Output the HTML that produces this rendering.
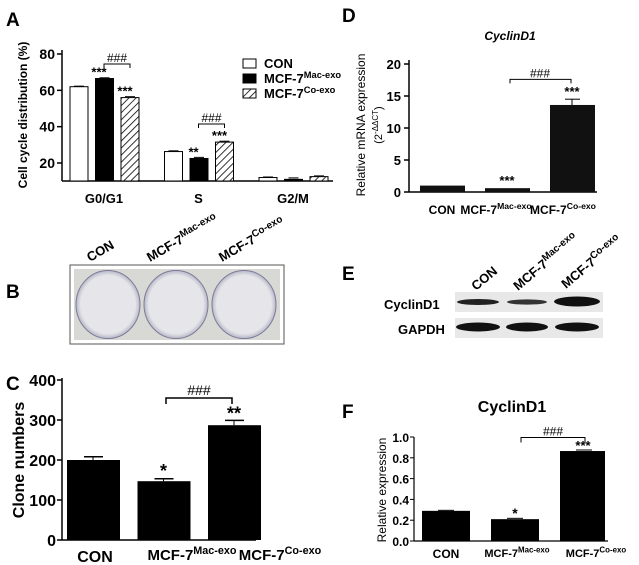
<!DOCTYPE html><html><head><meta charset="utf-8"><style>body{margin:0;background:#fff}svg{display:block;font-family:"Liberation Sans",Arial,sans-serif;font-weight:bold}</style></head><body>
<svg id="s" width="639" height="565" viewBox="0 0 639 565">
<defs><pattern id="h" width="5" height="5" patternUnits="userSpaceOnUse" patternTransform="rotate(45)"><rect width="5" height="5" fill="#fff"/><line x1="0" y1="0" x2="0" y2="5" stroke="#000" stroke-width="1.6"/></pattern>
<radialGradient id="pl"><stop offset="0.85" stop-color="#e6e6ea"/><stop offset="1" stop-color="#b8b8c8"/></radialGradient></defs>
<g font-size="19"><text x="6" y="26">A</text><text x="6" y="298">B</text><text x="6" y="390">C</text><text x="342" y="22">D</text><text x="342" y="280">E</text><text x="342" y="418">F</text></g>
<g><rect x="70" y="265" width="214" height="79" fill="#fff" stroke="#555"/>
<rect x="74" y="269" width="206" height="71" fill="#d8d8d4"/>
<ellipse cx="108" cy="304.5" rx="32" ry="34" fill="url(#pl)" stroke="#7a7a99"/><ellipse cx="176" cy="304.5" rx="32" ry="34" fill="url(#pl)" stroke="#7a7a99"/><ellipse cx="244" cy="304.5" rx="32" ry="34" fill="url(#pl)" stroke="#7a7a99"/></g>
<g font-size="13"><text transform="translate(90,262) rotate(-30)">CON</text><text transform="translate(150,262) rotate(-30)">MCF-7<tspan font-size="10" dy="-5">Mac-exo</tspan></text><text transform="translate(222,262) rotate(-30)">MCF-7<tspan font-size="10" dy="-5">Co-exo</tspan></text></g>
<g font-size="13"><text transform="translate(476,291) rotate(-40)">CON</text><text transform="translate(518,291) rotate(-40)">MCF-7<tspan font-size="10" dy="-5">Mac-exo</tspan></text><text transform="translate(566,289) rotate(-40)">MCF-7<tspan font-size="10" dy="-5">Co-exo</tspan></text>
<text x="384" y="309" font-size="13">CyclinD1</text><text x="398" y="334" font-size="13">GAPDH</text></g>
<g><rect x="455" y="292" width="148" height="20" fill="#e8e8e8"/><rect x="455" y="318" width="148" height="20" fill="#e8e8e8"/>
<ellipse cx="478" cy="302" rx="21" ry="3" fill="#222"/><ellipse cx="527" cy="302" rx="20" ry="2.6" fill="#333"/><ellipse cx="577" cy="301.5" rx="23" ry="5" fill="#111"/>
<ellipse cx="478" cy="327" rx="22" ry="4.5" fill="#111"/><ellipse cx="527" cy="327" rx="21" ry="4.5" fill="#111"/><ellipse cx="577" cy="327" rx="22" ry="4.5" fill="#111"/></g>
</svg>
<script>
const NS="http://www.w3.org/2000/svg",S=document.getElementById('s');
function E(t,a,p){const e=document.createElementNS(NS,t);for(const k in a)e.setAttribute(k,a[k]);(p||S).appendChild(e);return e}
function T(x,y,s,sz,anchor,extra){const e=E('text',Object.assign({x:x,y:y,'font-size':sz,'text-anchor':anchor||'middle'},extra||{}));e.textContent=s;return e}
function mcf(x,y,sup,sz,anchor){const e=E('text',{x:x,y:y,'font-size':sz,'text-anchor':anchor||'middle'});e.appendChild(document.createTextNode('MCF-7'));const t=E('tspan',{'font-size':sz*0.72,dy:-sz*0.4},e);t.textContent=sup;return e}
// ===== Panel A data
const catsA=["G0/G1","S","G2/M"];
const conA=[62,26.3,12];
const macA=[66.5,22.5,11];
const coA=[56,31.5,12.5];
const errA=[[0.3,0.4,0.3],[0.4,0.6,0.8],[0.5,0.5,0.4]];
const ticksA=[20,40,60,80];
const yA=v=>163-(v-20)*109/60, baseA=181;
const xA=i=>70+i*94.5;
E('line',{x1:62,y1:50,x2:62,y2:baseA,stroke:'#000','stroke-width':1.5});
E('line',{x1:62,y1:baseA,x2:333,y2:baseA,stroke:'#000','stroke-width':1.5});
ticksA.forEach(t=>{E('line',{x1:57,y1:yA(t),x2:62,y2:yA(t),stroke:'#000','stroke-width':1.5});T(55,yA(t)+5,String(t),14,'end')});
T(0,0,'Cell cycle distribution (%)',12,'middle',{transform:'translate(27,115) rotate(-90)'});
[conA,macA,coA].forEach((ser,s)=>{ser.forEach((v,i)=>{const x=xA(i)+s*25.5;const b=E('rect',{x:x,y:yA(v),width:18,height:baseA-yA(v),fill:s==0?'#fff':s==1?'#000':'url(#h)',stroke:'#000','stroke-width':1});const ey=yA(v+errA[s][i]);E('line',{x1:x+4,y1:ey,x2:x+14,y2:ey,stroke:'#000'});})});
catsA.forEach((c,i)=>T(xA(i)+34,203,c,13));
T(xA(0)+29,yA(macA[0])-2,'***',13);T(xA(0)+55,yA(coA[0])-2,'***',13);
T(xA(1)+29,yA(macA[1])-2,'**',13);T(xA(1)+55,yA(coA[1])-2,'***',13);
[[0,66.5+8],[1,31.5+10]].forEach(([i,v])=>{const y=yA(v);E('path',{d:`M${xA(i)+34} ${y+4}V${y}H${xA(i)+60}V${y+4}`,fill:'none',stroke:'#000'});T(xA(i)+47,y-2,'###',12,'middle',{'font-weight':'normal'})});
const legNames=['CON','Mac-exo','Co-exo'];
legNames.forEach((n,k)=>{const y=59+k*15;const r=E('rect',{x:243,y:y,width:13,height:9,fill:k==0?'#fff':k==1?'#000':'url(#h)',stroke:'#000'});if(k==0)T(264,y+9,'CON',13,'start');else mcf(264,y+9,n,13,'start')});
// ===== Panel D
const catsD=["CON","Mac-exo","Co-exo"];
const valsD=[1,0.6,13.6];
const errD=[0.05,0.05,0.9];
const ticksD=[0,5,10,15,20];
const yD=v=>192-v*6.4, xD=i=>420+i*65;
E('line',{x1:409,y1:60,x2:409,y2:192,stroke:'#000','stroke-width':1.5});E('line',{x1:409,y1:192,x2:597,y2:192,stroke:'#000','stroke-width':1.5});
ticksD.forEach(t=>{E('line',{x1:404,y1:yD(t),x2:409,y2:yD(t),stroke:'#000','stroke-width':1.5});T(401,yD(t)+5,String(t),13,'end')});
valsD.forEach((v,i)=>{const b=E('rect',{x:xD(i),y:yD(v),width:45,height:192-yD(v),fill:'#111'});if(errD[i]>0.1){E('line',{x1:xD(i)+22,y1:yD(v),x2:xD(i)+22,y2:yD(v+errD[i]),stroke:'#000'});E('line',{x1:xD(i)+15,y1:yD(v+errD[i]),x2:xD(i)+30,y2:yD(v+errD[i]),stroke:'#000'})}});
T(442,214,'CON',12);mcf(496,214,'Mac-exo',12);mcf(563,214,'Co-exo',12);
T(xD(1)+22,yD(valsD[1])-3,'***',13);T(xD(2)+22,yD(valsD[2]+errD[2])-3,'***',13);
{const y=yD(17.6);E('path',{d:`M510 ${y+4}V${y}H571V${y+4}`,fill:'none',stroke:'#000'});T(540,y-2,'###',12,'middle',{'font-weight':'normal'})}
T(510,40,'CyclinD1',12,'middle',{'font-style':'italic'});
T(0,0,'Relative mRNA expression',12,'middle',{transform:'translate(365,125) rotate(-90)','font-weight':'normal'});
{const e=T(0,0,'(2',11,'middle',{transform:'translate(382,125) rotate(-90)','font-weight':'normal'});const t=E('tspan',{'font-size':8,dy:-4},e);t.textContent='-ΔΔCT';const t2=E('tspan',{dy:4},e);t2.textContent=')';}
// ===== Panel C
const catsC=["CON","Mac-exo","Co-exo"];
const valsC=[200,147,287];
const errC=[8,6,12];
const ticksC=[0,100,200,300,400];
const yC=v=>540-v*0.4, xC=i=>67+i*70.5;
E('line',{x1:62,y1:378,x2:62,y2:540,stroke:'#000','stroke-width':1.5});E('line',{x1:62,y1:540,x2:256,y2:540,stroke:'#000','stroke-width':1.5});
ticksC.forEach(t=>{E('line',{x1:57,y1:yC(t),x2:62,y2:yC(t),stroke:'#000','stroke-width':1.5});T(56,yC(t)+6,String(t),16,'end')});
valsC.forEach((v,i)=>{const b=E('rect',{x:xC(i),y:yC(v),width:53,height:540-yC(v),fill:'#000'});E('line',{x1:xC(i)+26,y1:yC(v),x2:xC(i)+26,y2:yC(v+errC[i]),stroke:'#000'});E('line',{x1:xC(i)+17,y1:yC(v+errC[i]),x2:xC(i)+36,y2:yC(v+errC[i]),stroke:'#000','stroke-width':1.5})});
T(95,562,'CON',16);mcf(192,560,'Mac-exo',15);mcf(280,560,'Co-exo',15);
T(xC(1)+26,yC(valsC[1]+errC[1])-2,'*',18);T(xC(2)+26,yC(valsC[2]+errC[2])-1,'**',18);
{const y=yC(355);E('path',{d:`M166 ${y+6}V${y}H232V${y+6}`,fill:'none',stroke:'#000','stroke-width':1.5});T(199,y-3,'###',14,'middle',{'font-weight':'normal'})}
T(0,0,'Clone numbers',16,'middle',{transform:'translate(24,460) rotate(-90)'});
// ===== Panel F
const catsF=["CON","Mac-exo","Co-exo"];
const valsF=[0.29,0.21,0.865];
const errF=[0.005,0.008,0.01];
const ticksF=[0,0.2,0.4,0.6,0.8,1.0];
const yF=v=>541-v*104, xF=i=>422+i*69;
E('line',{x1:414,y1:437,x2:414,y2:541,stroke:'#000','stroke-width':1.2});E('line',{x1:414,y1:541,x2:608,y2:541,stroke:'#000','stroke-width':1.2});
ticksF.forEach(t=>{E('line',{x1:410,y1:yF(t),x2:414,y2:yF(t),stroke:'#000'});T(409,yF(t)+5,t.toFixed(1),12,'end')});
valsF.forEach((v,i)=>{const b=E('rect',{x:xF(i),y:yF(v),width:i==2?45:48,height:541-yF(v),fill:'#000'});E('line',{x1:xF(i)+16,y1:yF(v+errF[i]),x2:xF(i)+32,y2:yF(v+errF[i]),stroke:'#000'})});
T(446,558,'CON',12);mcf(517,557,'Mac-exo',11);mcf(596,557,'Co-exo',11);
T(xF(1)+24,yF(valsF[1])-1,'*',14);T(xF(2)+23,yF(valsF[2])-1,'***',13);
{const y=yF(0.995);E('path',{d:`M521 ${y+5}V${y}H585V${y+5}`,fill:'none',stroke:'#000'});T(553,y-2,'###',12,'middle',{'font-weight':'normal'})}
T(512,412,'CyclinD1',16);
T(0,0,'Relative expression',12,'middle',{transform:'translate(386,490) rotate(-90)','font-weight':'normal'});
</script></body></html>
